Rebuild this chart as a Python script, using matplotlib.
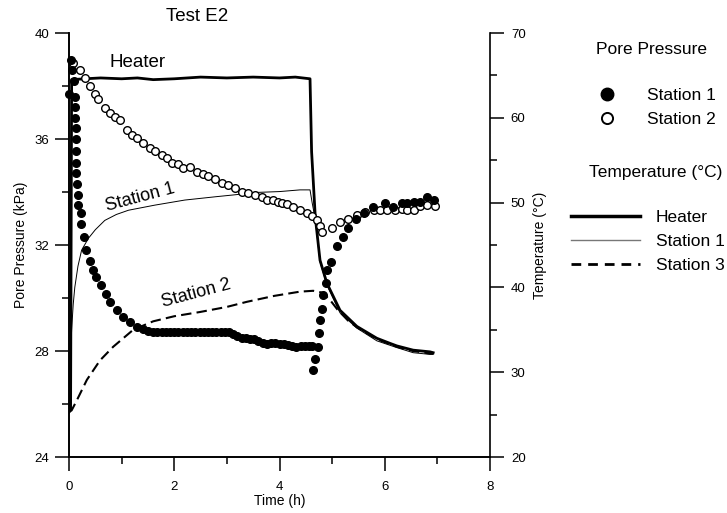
import matplotlib
matplotlib.use("Agg")
import matplotlib.pyplot as plt
from matplotlib.lines import Line2D
from matplotlib.ticker import MultipleLocator

plt.rcParams['font.family'] = ['Liberation Sans', 'DejaVu Sans']

# Pore pressure, station 1 (kPa)
pp1_time = [0.00, 0.04, 0.06, 0.09, 0.11, 0.11, 0.12, 0.13, 0.14, 0.14, 0.14, 0.14, 0.15,
            0.17, 0.18, 0.22, 0.23, 0.29, 0.33, 0.40, 0.46, 0.52, 0.60, 0.70, 0.78, 0.91,
            1.03, 1.16, 1.29, 1.41, 1.51, 1.60, 1.68, 1.76, 1.84, 1.92, 2.00, 2.08, 2.16,
            2.24, 2.32, 2.40, 2.48, 2.56, 2.64, 2.72, 2.80, 2.88, 2.96, 3.04, 3.12, 3.20,
            3.28, 3.36, 3.44, 3.52, 3.60, 3.68, 3.76, 3.84, 3.92, 4.00, 4.08, 4.16, 4.24,
            4.32, 4.40, 4.48, 4.56, 4.62, 4.64, 4.68, 4.74, 4.76, 4.77, 4.80, 4.83, 4.88,
            4.90, 4.97, 5.10, 5.20, 5.30, 5.45, 5.61, 5.78, 6.00, 6.16, 6.32, 6.42, 6.55,
            6.67, 6.80, 6.94]
pp1_kpa = [37.70, 39.00, 38.60, 38.20, 37.60, 37.20, 36.80, 36.40, 36.00, 35.55, 35.10, 34.70, 34.30,
           33.90, 33.50, 33.20, 32.80, 32.30, 31.80, 31.40, 31.06, 30.80, 30.50, 30.15, 29.86, 29.55,
           29.30, 29.10, 28.90, 28.84, 28.75, 28.73, 28.73, 28.73, 28.73, 28.73, 28.73, 28.73, 28.73,
           28.73, 28.73, 28.73, 28.73, 28.73, 28.73, 28.73, 28.73, 28.73, 28.73, 28.70, 28.66, 28.55,
           28.50, 28.48, 28.45, 28.44, 28.38, 28.30, 28.25, 28.31, 28.30, 28.28, 28.25, 28.22, 28.17,
           28.14, 28.20, 28.18, 28.18, 28.20, 27.28, 27.68, 28.16, 28.67, 29.17, 29.60, 30.11, 30.55,
           31.06, 31.37, 31.95, 32.32, 32.65, 33.00, 33.20, 33.45, 33.57, 33.45, 33.57, 33.60, 33.64,
           33.64, 33.82, 33.70]

# Pore pressure, station 2 (kPa)
pp2_time = [0.08, 0.21, 0.30, 0.39, 0.49, 0.56, 0.68, 0.78, 0.87, 0.96, 1.10, 1.19, 1.29,
            1.41, 1.54, 1.63, 1.76, 1.86, 1.95, 2.08, 2.17, 2.30, 2.43, 2.55, 2.65, 2.78,
            2.90, 3.03, 3.16, 3.28, 3.41, 3.54, 3.66, 3.76, 3.88, 3.98, 4.05, 4.14, 4.26,
            4.39, 4.52, 4.61, 4.71, 4.77, 4.80, 4.99, 5.15, 5.31, 5.47, 5.63, 5.79, 5.91,
            6.04, 6.20, 6.32, 6.42, 6.55, 6.67, 6.80, 6.96]
pp2_kpa = [38.85, 38.60, 38.30, 38.00, 37.70, 37.50, 37.16, 36.98, 36.84, 36.70, 36.34, 36.15, 36.03,
           35.86, 35.65, 35.55, 35.40, 35.27, 35.10, 35.05, 34.90, 34.95, 34.77, 34.68, 34.60, 34.48,
           34.35, 34.26, 34.14, 34.01, 33.95, 33.89, 33.80, 33.70, 33.70, 33.64, 33.57, 33.55, 33.45,
           33.32, 33.20, 33.10, 32.94, 32.70, 32.50, 32.63, 32.86, 32.97, 33.12, 33.25, 33.32, 33.32,
           33.32, 33.32, 33.35, 33.32, 33.32, 33.47, 33.50, 33.47]

# Temperature records (deg C)
heater_time = [0.00, 0.03, 0.05, 0.30, 0.60, 1.00, 1.30, 1.60, 2.00, 2.50, 3.00, 3.50, 4.00,
               4.30, 4.58, 4.61, 4.68, 4.77, 4.90, 5.15, 5.47, 5.85, 6.10, 6.23, 6.54, 6.86, 6.92]
heater_temp = [25.3, 25.6, 64.5, 64.6, 64.7, 64.6, 64.7, 64.5, 64.6, 64.8, 64.7, 64.8, 64.7,
               64.8, 64.6, 56.0, 48.3, 43.2, 40.5, 37.3, 35.4, 34.0, 33.4, 33.1, 32.6, 32.4, 32.3]

st1_time = [0.00, 0.03, 0.05, 0.08, 0.11, 0.17, 0.24, 0.37, 0.50, 0.68, 0.90, 1.13, 1.63, 2.20,
            2.80, 3.12, 3.57, 4.00, 4.39, 4.58, 4.62, 4.68, 4.77, 4.90, 5.15, 5.47, 5.85, 6.23,
            6.54, 6.86, 6.92]
st1_temp = [25.5, 32.0, 35.0, 38.0, 40.0, 42.5, 44.4, 45.8, 46.8, 47.9, 48.6, 49.1, 49.7, 50.3,
            50.7, 50.9, 51.2, 51.3, 51.5, 51.5, 50.0, 48.0, 43.0, 40.3, 37.0, 35.2, 33.7, 32.9,
            32.3, 32.1, 32.1]

st3_time = [0.00, 0.05, 0.15, 0.34, 0.59, 0.84, 1.22, 1.60, 2.00, 2.49, 3.00, 3.38, 3.90, 4.39,
            4.64, 4.80, 4.95, 5.10, 5.30, 5.47, 5.85, 6.23, 6.54, 6.86, 6.92]
st3_temp = [25.3, 25.5, 26.7, 29.1, 31.4, 33.0, 35.0, 36.0, 36.6, 37.1, 37.7, 38.3, 39.0, 39.5,
            39.6, 39.4, 38.6, 37.4, 36.1, 35.3, 33.9, 33.0, 32.5, 32.2, 32.2]

fig = plt.figure(figsize=(7.27, 5.13), dpi=100)
ax = fig.add_axes([69 / 727, 56 / 513, 421 / 727, 424 / 513])
ax2 = ax.twinx()

# temperature curves on the right axis
ax2.plot(heater_time, heater_temp, color='black', lw=2.0)
ax2.plot(st1_time, st1_temp, color='black', lw=0.7)
ax2.plot(st3_time, st3_temp, color='black', lw=1.5, linestyle=(0, (5, 2.5)))

# pore pressure points on the left axis
ax.set_zorder(ax2.get_zorder() + 1)
ax.patch.set_visible(False)
ax.plot(pp2_time, pp2_kpa, 'o', ms=5.5, mfc='white', mec='black', mew=1.0, clip_on=False)
ax.plot(pp1_time, pp1_kpa, 'o', ms=5.5, mfc='black', mec='black', clip_on=False)

ax.set_xlim(0, 8)
ax.set_ylim(24, 40)
ax2.set_ylim(20, 70)
ax.xaxis.set_major_locator(MultipleLocator(2))
ax.xaxis.set_minor_locator(MultipleLocator(1))
ax.yaxis.set_major_locator(MultipleLocator(4))
ax.yaxis.set_minor_locator(MultipleLocator(2))
ax2.yaxis.set_major_locator(MultipleLocator(10))
ax2.yaxis.set_minor_locator(MultipleLocator(5))

for a in (ax, ax2):
    a.spines['top'].set_visible(False)
    for s in a.spines.values():
        s.set_linewidth(1.2)
    a.tick_params(which='major', length=10, width=1.1, labelsize=9.5)
    a.tick_params(which='minor', length=5, width=1.1)
ax.spines['right'].set_visible(False)
ax.tick_params(axis='x', which='major', pad=7)
ax.tick_params(axis='y', which='major', pad=4)
ax2.tick_params(axis='y', which='major', pad=5)

ax.set_xlabel('Time (h)', fontsize=10, labelpad=1)
ax.set_ylabel('Pore Pressure (kPa)', fontsize=10, labelpad=5)
ax2.set_ylabel('Temperature (°C)', fontsize=10, labelpad=5)

ax.text(2.43, 1.038, 'Test E2', transform=ax.get_xaxis_transform(), fontsize=13.5,
        ha='center', va='center')
ax.text(1.31, 38.9, 'Heater', fontsize=13.5, ha='center', va='center')
ax.text(1.35, 33.81, 'Station 1', fontsize=13, ha='center', va='center', rotation=15)
ax.text(2.41, 30.19, 'Station 2', fontsize=13, ha='center', va='center', rotation=15)

# legends
fig.text(651 / 727, 1 - 50 / 513, 'Pore Pressure', fontsize=12.5, ha='center', va='center')
pp_handles = [Line2D([], [], ls='none', marker='o', ms=9, mfc='black', mec='black'),
              Line2D([], [], ls='none', marker='o', ms=8, mfc='white', mec='black', mew=1.4)]
leg1 = fig.legend(pp_handles, ['Station 1', 'Station 2'], loc='upper left',
                  bbox_to_anchor=(598 / 727, 1 - 88 / 513), frameon=False, fontsize=12.5,
                  handlelength=1.0, handletextpad=1.8, labelspacing=0.5,
                  borderpad=0, borderaxespad=0)

fig.text(656 / 727, 1 - 173 / 513, 'Temperature (°C)', fontsize=12.5, ha='center', va='center')
t_handles = [Line2D([], [], color='black', lw=2.5),
             Line2D([], [], color='#777777', lw=1.0),
             Line2D([], [], color='black', lw=2.0, ls=(0, (3.5, 2.5)))]
leg2 = fig.legend(t_handles, ['Heater', 'Station 1', 'Station 3'], loc='upper left',
                  bbox_to_anchor=(571 / 727, 1 - 210 / 513), frameon=False, fontsize=12.5,
                  handlelength=4.0, handletextpad=0.9, labelspacing=0.5,
                  borderpad=0, borderaxespad=0)

fig.savefig('out.png', dpi=100)
